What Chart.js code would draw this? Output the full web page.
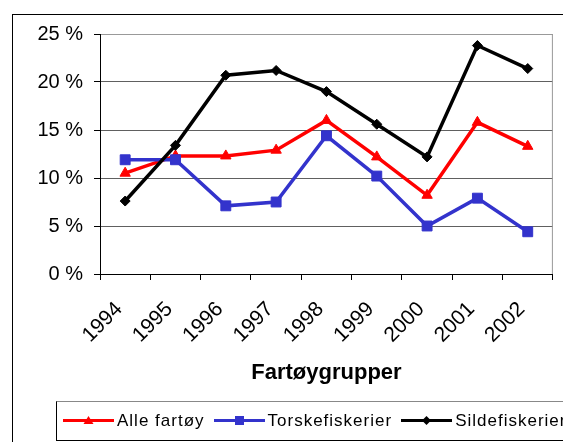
<!DOCTYPE html>
<html lang="no">
<head>
    <meta charset="UTF-8">
    <title>Fartøygrupper</title>
    <script src="https://cdn.jsdelivr.net/npm/chart.js"></script>
    <style>
        html, body {
            margin: 0;
            padding: 0;
            width: 563px;
            height: 442px;
            overflow: hidden;
            background: #fff;
            font-family: 'Liberation Sans', Arial, sans-serif;
        }
        .frame {
            position: absolute;
            left: 12px;
            top: 14px;
            width: 620px;
            height: 500px;
            border: 1px solid #000;
        }
        #chart {
            position: absolute;
            left: 0;
            top: 0;
        }
        .legend {
            position: absolute;
            left: 56px;
            top: 401px;
            width: 560px;
            height: 37px;
            border: 1px solid #000;
            border-top-color: #888;
            display: flex;
            align-items: center;
            padding-left: 6px;
            padding-bottom: 1px;
            box-sizing: content-box;
        }
        .item {
            display: flex;
            align-items: center;
            margin-right: 9px;
        }
        .item span {
            font-size: 17px;
            letter-spacing: 1px;
            color: #000;
            margin-left: 3px;
        }
    </style>
</head>
<body>
    <div class="frame"></div>
    <canvas id="chart" width="563" height="442"></canvas>
    <div class="legend" id="legend"></div>

    <script>
        // data
        const years = ['1994', '1995', '1996', '1997', '1998', '1999', '2000', '2001', '2002'];
        const alleFartoy = [10.5, 12.3, 12.3, 12.9, 16.0, 12.2, 8.2, 15.8, 13.3];
        const torskefiskerier = [11.9, 11.9, 7.1, 7.5, 14.4, 10.2, 5.0, 7.9, 4.4];
        const sildefiskerier = [7.6, 13.4, 20.7, 21.2, 19.0, 15.6, 12.2, 23.8, 21.4];
        const yTicks = [0, 5, 10, 15, 20, 25];

        const series = [
            { label: 'Alle fartøy', data: alleFartoy, color: '#ff0000', style: 'triangle', radius: 6, order: 3 },
            { label: 'Torskefiskerier', data: torskefiskerier, color: '#3333cc', style: 'rect', radius: 7, order: 2 },
            { label: 'Sildefiskerier', data: sildefiskerier, color: '#000000', style: 'rectRot', radius: 5, order: 1 }
        ];

        // right edge of plot area
        const plotBorder = {
            id: 'plotBorder',
            afterDraw(chart) {
                const { ctx, chartArea } = chart;
                ctx.save();
                ctx.strokeStyle = '#999';
                ctx.lineWidth = 1;
                ctx.beginPath();
                ctx.moveTo(chartArea.right - 0.5, chartArea.top);
                ctx.lineTo(chartArea.right - 0.5, chartArea.bottom);
                ctx.stroke();
                ctx.restore();
            }
        };

        new Chart(document.getElementById('chart'), {
            type: 'line',
            data: {
                labels: years,
                datasets: series.map(s => ({
                    label: s.label,
                    data: s.data,
                    borderColor: s.color,
                    backgroundColor: s.color,
                    pointBackgroundColor: s.color,
                    pointBorderColor: s.color,
                    pointBorderWidth: 1,
                    pointStyle: s.style,
                    pointRadius: s.radius,
                    borderWidth: 3.5,
                    tension: 0,
                    order: s.order
                }))
            },
            options: {
                responsive: false,
                animation: false,
                layout: { padding: { left: 0, top: 34, right: 6, bottom: 0 } },
                plugins: {
                    legend: { display: false },
                    tooltip: { enabled: false }
                },
                scales: {
                    x: {
                        offset: true,
                        afterFit(scale) { scale.height = 168; },
                        grid: {
                            offset: true,
                            drawOnChartArea: false,
                            tickLength: 6,
                            tickColor: '#000'
                        },
                        border: { color: '#000' },
                        ticks: {
                            minRotation: 45,
                            maxRotation: 45,
                            padding: 17,
                            labelOffset: -6,
                            color: '#000',
                            font: { family: "'Liberation Sans', Arial", size: 21 }
                        },
                        title: {
                            display: true,
                            text: 'Fartøygrupper',
                            color: '#000',
                            padding: { top: 0, bottom: 56 },
                            font: { family: "'Liberation Sans', Arial", size: 22, weight: 'bold' }
                        }
                    },
                    y: {
                        min: 0,
                        max: 25,
                        afterFit(scale) { scale.width = 100; },
                        afterBuildTicks(scale) { scale.ticks = yTicks.map(v => ({ value: v })); },
                        grid: {
                            color: ctx => ctx.tick && ctx.tick.value === 25 ? '#999' : '#606060',
                            tickLength: 6,
                            tickColor: '#000'
                        },
                        border: { color: '#000' },
                        ticks: {
                            padding: 11,
                            color: '#000',
                            font: { family: "'Liberation Sans', Arial", size: 20 },
                            callback: v => v + ' %'
                        }
                    }
                }
            },
            plugins: [plotBorder]
        });

        // legend: line with marker in the middle, then label
        const legend = document.getElementById('legend');
        series.forEach(s => {
            const item = document.createElement('div');
            item.className = 'item';
            let marker = '';
            if (s.style === 'triangle') marker = '<polygon points="25.5,3 30.5,11 20.5,11" fill="' + s.color + '"/>';
            if (s.style === 'rect') marker = '<rect x="21" y="3" width="9" height="9" fill="' + s.color + '"/>';
            if (s.style === 'rectRot') marker = '<polygon points="25.5,3 30,7.5 25.5,12 21,7.5" fill="' + s.color + '"/>';
            item.innerHTML = '<svg width="51" height="15"><line x1="0" y1="7.5" x2="51" y2="7.5" stroke="' +
                s.color + '" stroke-width="3"/>' + marker + '</svg><span>' + s.label + '</span>';
            legend.appendChild(item);
        });
    </script>
</body>
</html>
